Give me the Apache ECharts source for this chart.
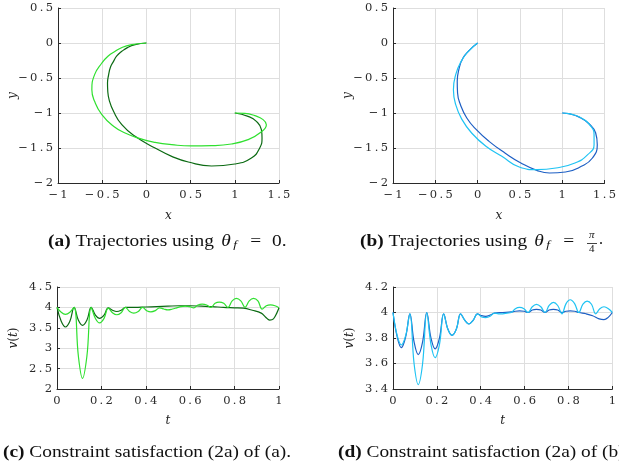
<!DOCTYPE html>
<html>
<head>
<meta charset="utf-8">
<title>Trajectories</title>
<script src="https://cdn.jsdelivr.net/npm/echarts@6/dist/echarts.min.js"></script>
<style>
html, body { margin: 0; padding: 0; background: #fff; }
#main { width: 619px; height: 465px; }
</style>
</head>
<body>
<div id="main"></div>
<script>
// tick values
var xyTicksX = [-1, -0.5, 0, 0.5, 1, 1.5];
var xyTicksY = [-2, -1.5, -1, -0.5, 0, 0.5];
var tTicks = [0, 0.2, 0.4, 0.6, 0.8, 1];
var vTicksA = [2, 2.5, 3, 3.5, 4, 4.5];
var vTicksB = [3.4, 3.6, 3.8, 4, 4.2];

// (a) trajectories, theta_f = 0  [x, y]
var trajA_dark = [[0,0],[-0.128,-0.024],[-0.21,-0.062],[-0.278,-0.119],[-0.335,-0.185],[-0.372,-0.262],[-0.405,-0.34],[-0.428,-0.46],[-0.44,-0.571],[-0.437,-0.69],[-0.42,-0.82],[-0.372,-0.976],[-0.278,-1.167],[-0.128,-1.333],[0.098,-1.5],[0.286,-1.619],[0.474,-1.7],[0.737,-1.757],[1.0,-1.729],[1.188,-1.643],[1.282,-1.5],[1.308,-1.357],[1.301,-1.238],[1.244,-1.119],[1.15,-1.048],[1.0,-1.0]];
var trajA_light = [[0,0],[-0.165,-0.024],[-0.27,-0.06],[-0.353,-0.119],[-0.435,-0.19],[-0.504,-0.286],[-0.586,-0.452],[-0.617,-0.667],[-0.586,-0.833],[-0.504,-1.024],[-0.372,-1.19],[-0.241,-1.286],[-0.071,-1.367],[0.098,-1.419],[0.286,-1.452],[0.511,-1.471],[0.737,-1.467],[0.962,-1.443],[1.15,-1.381],[1.282,-1.286],[1.357,-1.167],[1.32,-1.095],[1.226,-1.038],[1.113,-1.005],[1.0,-1.0]];

// (b) trajectories, theta_f = pi/4
var trajB_dark = [[0,0],[-0.09,-0.095],[-0.173,-0.214],[-0.222,-0.381],[-0.241,-0.548],[-0.237,-0.714],[-0.203,-0.881],[-0.128,-1.071],[-0.015,-1.238],[0.135,-1.405],[0.323,-1.571],[0.511,-1.714],[0.699,-1.819],[0.85,-1.857],[1.038,-1.843],[1.226,-1.762],[1.357,-1.643],[1.414,-1.452],[1.395,-1.286],[1.32,-1.157],[1.207,-1.062],[1.075,-1.01],[1.0,-1.0]];
var trajB_light = [[0,0],[-0.109,-0.119],[-0.195,-0.262],[-0.259,-0.452],[-0.286,-0.667],[-0.259,-0.881],[-0.184,-1.095],[-0.071,-1.286],[0.098,-1.476],[0.286,-1.619],[0.492,-1.771],[0.699,-1.81],[0.925,-1.786],[1.15,-1.714],[1.301,-1.595],[1.376,-1.452],[1.376,-1.31],[1.338,-1.19],[1.226,-1.071],[1.075,-1.01],[1.0,-1.0]];

// (c) speed v(t) for (a)  [t, v]
var speedA_dark = [[0,4.0],[0.019,3.66],[0.038,3.52],[0.058,3.66],[0.077,4.0],[0.096,3.69],[0.115,3.56],[0.135,3.69],[0.154,4.0],[0.173,3.81],[0.192,3.73],[0.212,3.81],[0.231,3.99],[0.25,3.93],[0.269,3.9],[0.289,3.93],[0.308,4.0],[0.35,4.0],[0.4,4.01],[0.45,4.02],[0.5,4.03],[0.55,4.04],[0.6,4.04],[0.65,4.03],[0.7,4.02],[0.75,4.0],[0.8,3.99],[0.84,3.98],[0.88,3.93],[0.92,3.86],[0.94,3.76],[0.958,3.69],[0.975,3.72],[0.99,3.86],[1.0,3.99]];
var speedA_light = [[0,4.0],[0.019,3.88],[0.038,3.83],[0.058,3.88],[0.077,4.0],[0.096,2.82],[0.115,2.26],[0.135,2.82],[0.154,4.0],[0.173,3.73],[0.192,3.62],[0.212,3.73],[0.231,3.98],[0.25,3.87],[0.269,3.82],[0.289,3.87],[0.308,4.0],[0.327,3.9],[0.346,3.86],[0.366,3.9],[0.385,4.0],[0.404,3.92],[0.423,3.89],[0.443,3.92],[0.462,3.99],[0.481,3.96],[0.5,3.94],[0.52,3.96],[0.539,3.99],[0.558,4.02],[0.577,4.03],[0.597,4.02],[0.616,3.99],[0.635,4.06],[0.654,4.08],[0.674,4.06],[0.693,4.0],[0.712,4.1],[0.731,4.13],[0.751,4.1],[0.77,4.0],[0.789,4.16],[0.808,4.22],[0.828,4.16],[0.847,4.0],[0.866,4.16],[0.885,4.22],[0.905,4.16],[0.924,3.96],[0.943,4.04],[0.962,4.06],[0.982,4.04],[1.0,3.99]];

// (d) speed v(t) for (b)
var speedB_dark = [[0,4.0],[0.019,3.81],[0.038,3.725],[0.058,3.81],[0.077,3.99],[0.096,3.77],[0.115,3.67],[0.135,3.77],[0.154,4.0],[0.173,3.8],[0.192,3.715],[0.212,3.8],[0.231,3.99],[0.25,3.87],[0.269,3.82],[0.289,3.87],[0.308,3.99],[0.327,3.94],[0.346,3.91],[0.366,3.94],[0.385,3.99],[0.404,3.975],[0.423,3.97],[0.443,3.98],[0.462,3.995],[0.5,4.0],[0.539,4.005],[0.558,4.01],[0.577,4.012],[0.597,4.01],[0.616,4.0],[0.635,4.02],[0.654,4.025],[0.674,4.02],[0.693,4.0],[0.712,4.02],[0.731,4.025],[0.751,4.02],[0.77,4.0],[0.789,4.01],[0.808,4.012],[0.828,4.01],[0.847,4.0],[0.88,3.99],[0.91,3.975],[0.94,3.95],[0.962,3.944],[0.98,3.96],[1.0,4.0]];
var speedB_light = [[0,4.0],[0.019,3.82],[0.038,3.745],[0.058,3.82],[0.077,3.99],[0.096,3.6],[0.115,3.435],[0.135,3.6],[0.154,4.0],[0.173,3.75],[0.192,3.645],[0.212,3.75],[0.231,3.99],[0.25,3.87],[0.269,3.82],[0.289,3.87],[0.308,3.99],[0.327,3.94],[0.346,3.91],[0.366,3.94],[0.385,3.99],[0.404,3.965],[0.423,3.96],[0.443,3.97],[0.462,3.995],[0.481,3.99],[0.5,3.99],[0.52,3.995],[0.539,4.0],[0.558,4.03],[0.577,4.04],[0.597,4.03],[0.616,4.0],[0.635,4.045],[0.654,4.064],[0.674,4.045],[0.693,4.0],[0.712,4.055],[0.731,4.08],[0.751,4.055],[0.77,3.99],[0.789,4.07],[0.808,4.1],[0.828,4.07],[0.847,4.0],[0.866,4.065],[0.885,4.09],[0.905,4.065],[0.924,3.99],[0.943,4.03],[0.962,4.045],[0.982,4.03],[1.0,4.0]];

var GREEN_D = '#0b6a12', GREEN_L = '#2fe02f';
var BLUE_D = '#1d5fc4', BLUE_L = '#1fc3f3';
var SERIF = 'DejaVu Serif';
var CAPFONT = 'Liberation Serif';
var CAPSCALE = 1.21;

function tickFmt(v) {
    var s = String(+v.toFixed(4)).replace('-', '\u2212');
    return s.split('').join('\u2009');
}

function valAxis(gi, ticks, isX, name, gap) {
    return {
        type: 'value',
        gridIndex: gi,
        min: ticks[0],
        max: ticks[ticks.length - 1],
        interval: +(ticks[1] - ticks[0]).toFixed(6),
        name: name,
        nameLocation: 'middle',
        nameGap: gap,
        nameMoveOverlap: false,
        nameRotate: isX ? 0 : 90,
        nameTextStyle: {
            fontFamily: SERIF, fontSize: 12, color: '#222',
            rich: {
                i: { fontFamily: SERIF, fontStyle: 'italic', fontSize: 12, color: '#222' },
                r: { fontFamily: SERIF, fontSize: 12, color: '#222' }
            }
        },
        axisLine: { show: true, onZero: false, lineStyle: { color: '#2a2a2a', width: 1 } },
        axisTick: { show: true, inside: true, length: 3, lineStyle: { color: '#2a2a2a' } },
        axisLabel: {
            formatter: tickFmt, fontFamily: SERIF, fontSize: 11.5, color: '#2a2a2a',
            margin: isX ? 6 : 5, showMinLabel: true, showMaxLabel: true
        },
        splitLine: { show: true, lineStyle: { color: '#dedede', width: 1 } }
    };
}

function lineSeries(gi, data, color, smooth) {
    return {
        type: 'line', xAxisIndex: gi, yAxisIndex: gi, data: data,
        showSymbol: false, smooth: smooth, animation: false,
        lineStyle: { color: color, width: 1.2 }
    };
}

var capRich = {
    b: { fontFamily: CAPFONT, fontSize: 16, fontWeight: 'bold' },
    i: { fontFamily: CAPFONT, fontSize: 16, fontStyle: 'italic', padding: [0, 0, 0, 2] },
    s: { fontFamily: CAPFONT, fontSize: 11, fontStyle: 'italic', padding: [8, 2, 0, 2] },
    e: { fontFamily: CAPFONT, fontSize: 16, padding: [0, 9, 0, 9] }
};

function caption(x, y, txt) {
    return {
        type: 'text', x: x, y: y, scaleX: CAPSCALE,
        style: { text: txt, fontFamily: CAPFONT, fontSize: 16, fill: '#111', rich: capRich }
    };
}

var chart = echarts.init(document.getElementById('main'));
chart.setOption({
    animation: false,
    backgroundColor: '#fff',
    grid: [
        { left: 58, top: 8, width: 221, height: 175 },
        { left: 393, top: 8, width: 221, height: 175 },
        { left: 57, top: 287, width: 222, height: 102 },
        { left: 393, top: 287, width: 221, height: 102 }
    ],
    xAxis: [
        valAxis(0, xyTicksX, true, '{i|x}', 27),
        valAxis(1, xyTicksX, true, '{i|x}', 27),
        valAxis(2, tTicks, true, '{i|t}', 26),
        valAxis(3, tTicks, true, '{i|t}', 26)
    ],
    yAxis: [
        valAxis(0, xyTicksY, false, '{i|y}', 39),
        valAxis(1, xyTicksY, false, '{i|y}', 39),
        valAxis(2, vTicksA, false, '{i|v}{r|(}{i|t}{r|)}', 37),
        valAxis(3, vTicksB, false, '{i|v}{r|(}{i|t}{r|)}', 37)
    ],
    series: [
        lineSeries(0, trajA_dark, GREEN_D, 0.5),
        lineSeries(0, trajA_light, GREEN_L, 0.5),
        lineSeries(1, trajB_dark, BLUE_D, 0.5),
        lineSeries(1, trajB_light, BLUE_L, 0.5),
        lineSeries(2, speedA_dark, GREEN_D, 0.4),
        lineSeries(2, speedA_light, GREEN_L, 0.4),
        lineSeries(3, speedB_dark, BLUE_D, 0.4),
        lineSeries(3, speedB_light, BLUE_L, 0.4)
    ],
    graphic: [
        caption(48, 232, '{b|(a)} Trajectories using {i|θ}{s|f}{e|=}0.'),
        caption(360, 232, '{b|(b)} Trajectories using {i|θ}{s|f}{e|=}'),
        { type: 'text', x: 589, y: 230, style: { text: 'π', fontFamily: CAPFONT, fontStyle: 'italic', fontSize: 11, fill: '#111' } },
        { type: 'line', shape: { x1: 587, y1: 243.5, x2: 597, y2: 243.5 }, style: { stroke: '#111', lineWidth: 0.8 } },
        { type: 'text', x: 589, y: 244, style: { text: '4', fontFamily: CAPFONT, fontSize: 11, fill: '#111' } },
        { type: 'text', x: 599, y: 232, style: { text: '.', fontFamily: CAPFONT, fontSize: 16, fill: '#111' } },
        caption(3, 445, '{b|(c)} Constraint satisfaction (2a) of (a).'),
        caption(338, 445, '{b|(d)} Constraint satisfaction (2a) of (b).')
    ]
});
</script>
</body>
</html>
